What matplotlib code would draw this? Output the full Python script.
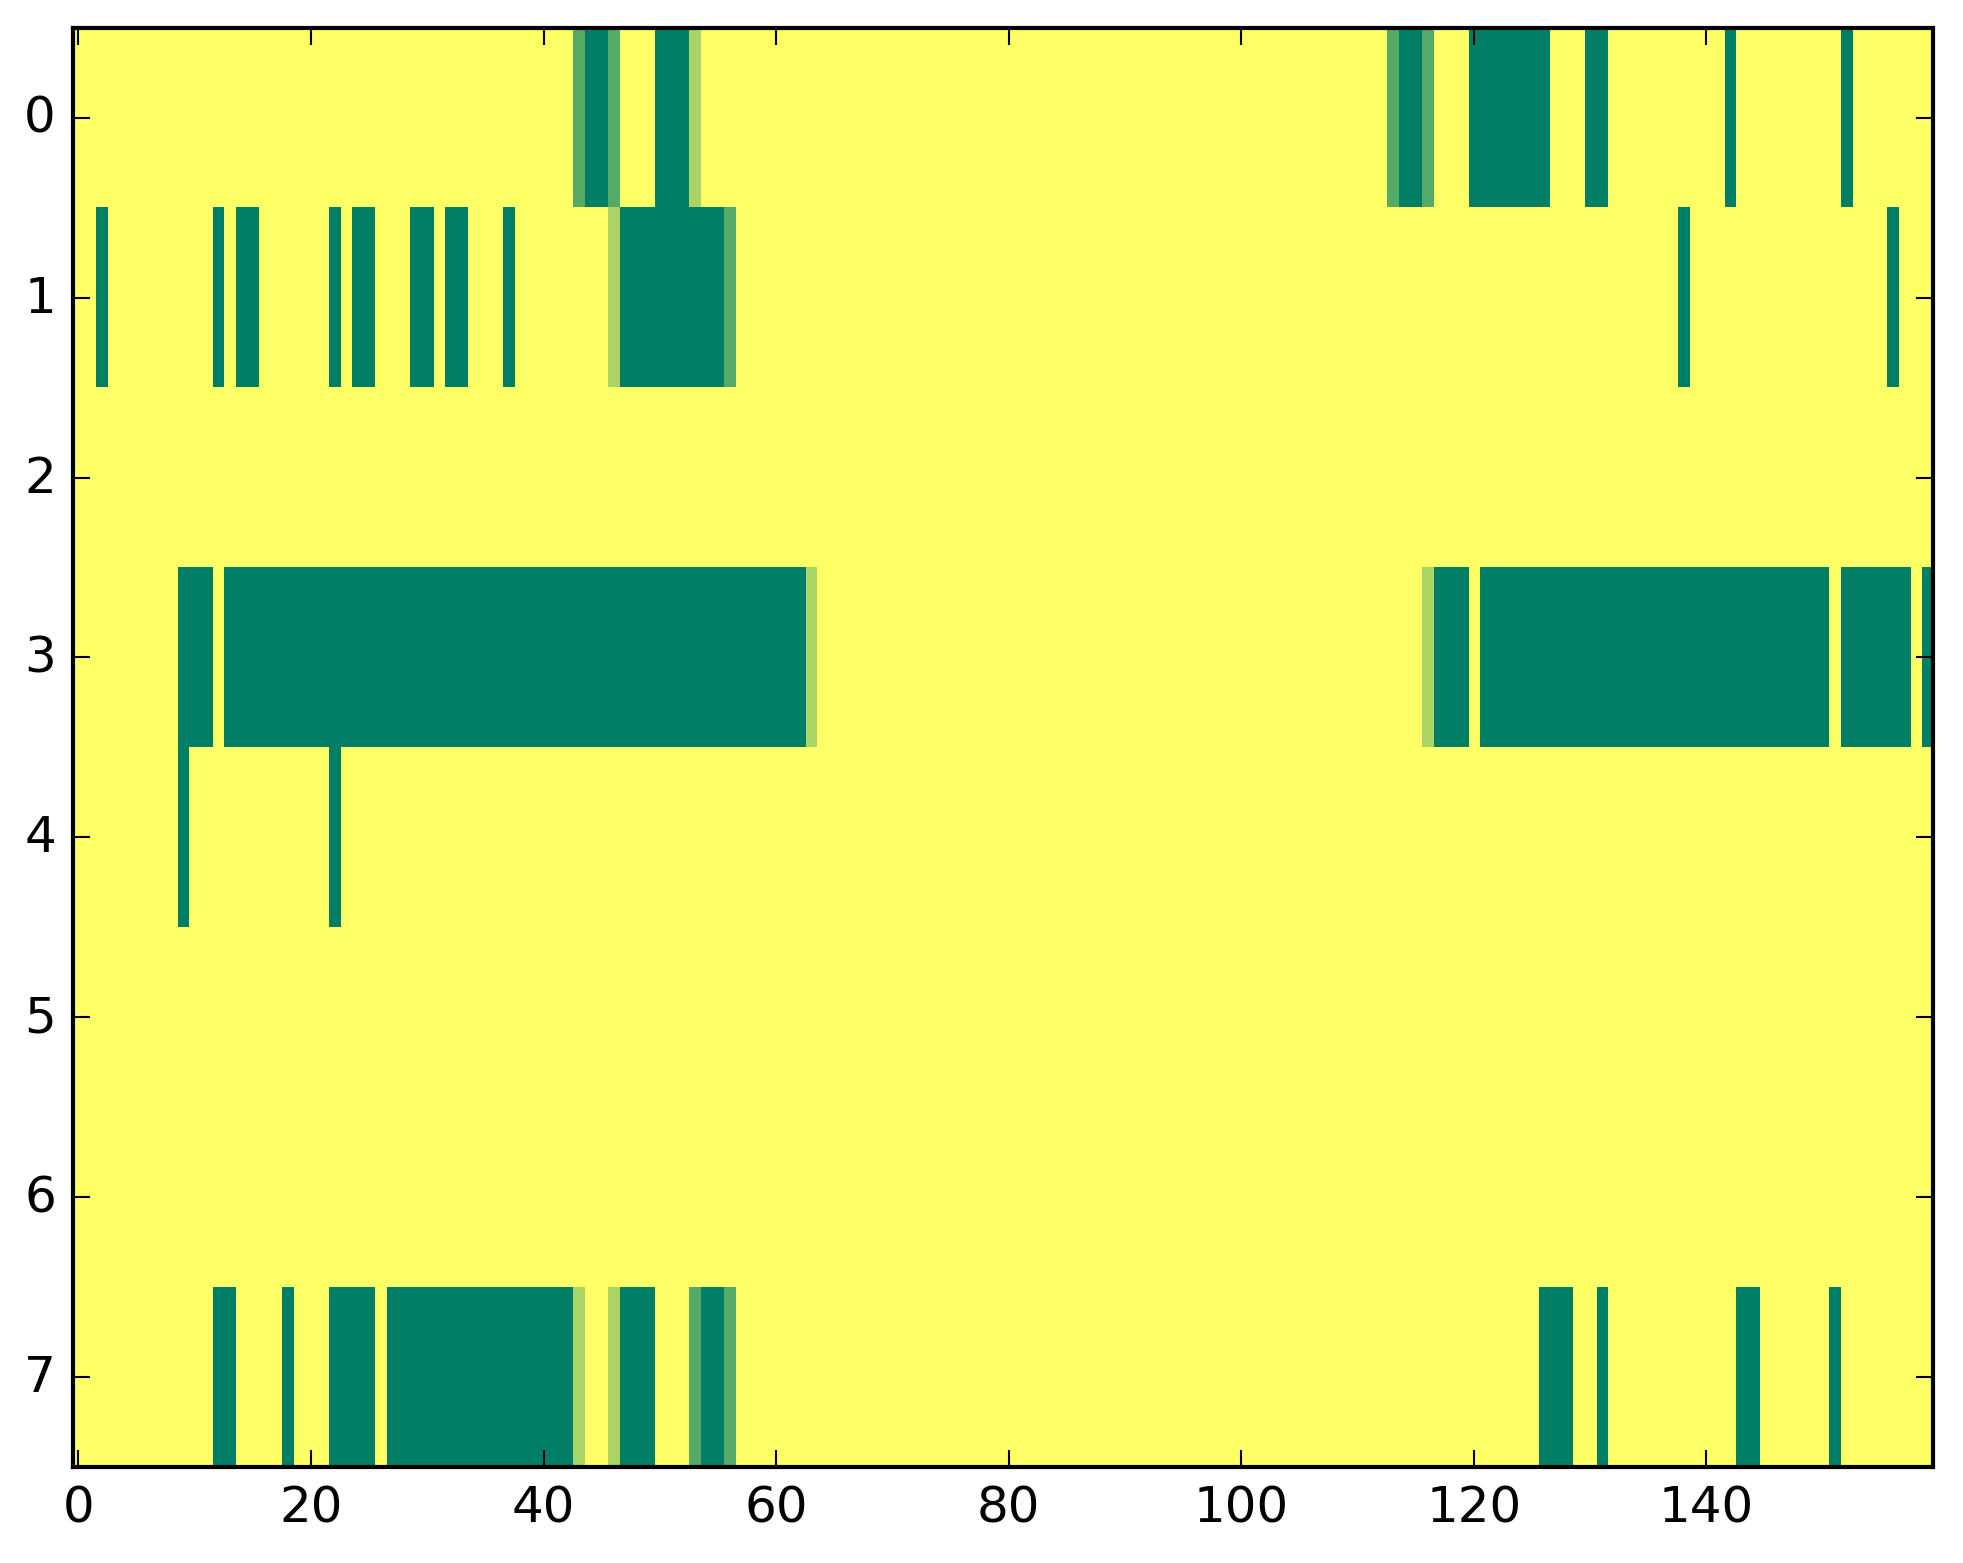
import numpy as np
import matplotlib
matplotlib.use("Agg")
import matplotlib.pyplot as plt

# runs per row: (first column, last column, value)
n_rows = 8
n_cols = 160

row0 = [(43, 43, 2), (44, 45, 3), (46, 46, 2), (50, 52, 3), (53, 53, 1),
        (113, 113, 2), (114, 115, 3), (116, 116, 2), (120, 126, 3),
        (130, 131, 3), (142, 142, 3), (152, 152, 3)]
row1 = [(2, 2, 3), (12, 12, 3), (14, 15, 3), (22, 22, 3), (24, 25, 3),
        (29, 30, 3), (32, 33, 3), (37, 37, 3), (46, 46, 1), (47, 55, 3),
        (56, 56, 2), (138, 138, 3), (156, 156, 3)]
row2 = []
row3 = [(9, 11, 3), (13, 62, 3), (63, 63, 1), (116, 116, 1), (117, 119, 3),
        (121, 150, 3), (152, 157, 3), (159, 159, 3)]
row4 = [(9, 9, 3), (22, 22, 3)]
row5 = []
row6 = []
row7 = [(12, 13, 3), (18, 18, 3), (22, 25, 3), (27, 42, 3), (43, 43, 1),
        (46, 46, 1), (47, 49, 3), (53, 53, 2), (54, 55, 3), (56, 56, 2),
        (126, 128, 3), (131, 131, 3), (143, 144, 3), (151, 151, 3)]

rows = [row0, row1, row2, row3, row4, row5, row6, row7]

data = np.zeros((n_rows, n_cols))
for r, runs in enumerate(rows):
    for a, b, v in runs:
        data[r, a:b + 1] = v

plt.style.use("classic")
plt.rcParams["font.family"] = ["DejaVu Sans"]
plt.rcParams["figure.facecolor"] = "white"
plt.rcParams["savefig.facecolor"] = "white"

fig = plt.figure(figsize=(1963 / 300, 1564 / 300), dpi=300)
ax = fig.add_axes([0.0370, 0.0612, 0.9477, 0.9205])
ax.imshow(data, cmap="summer_r", vmin=0, vmax=3, aspect="auto",
          interpolation="nearest")
ax.set_xlim(-0.5, n_cols - 0.5)
ax.set_ylim(n_rows - 0.5, -0.5)
ax.set_xticks(np.arange(0, 141, 20))
ax.set_yticks(np.arange(0, 8))

fig.savefig("out.png", dpi=300)
